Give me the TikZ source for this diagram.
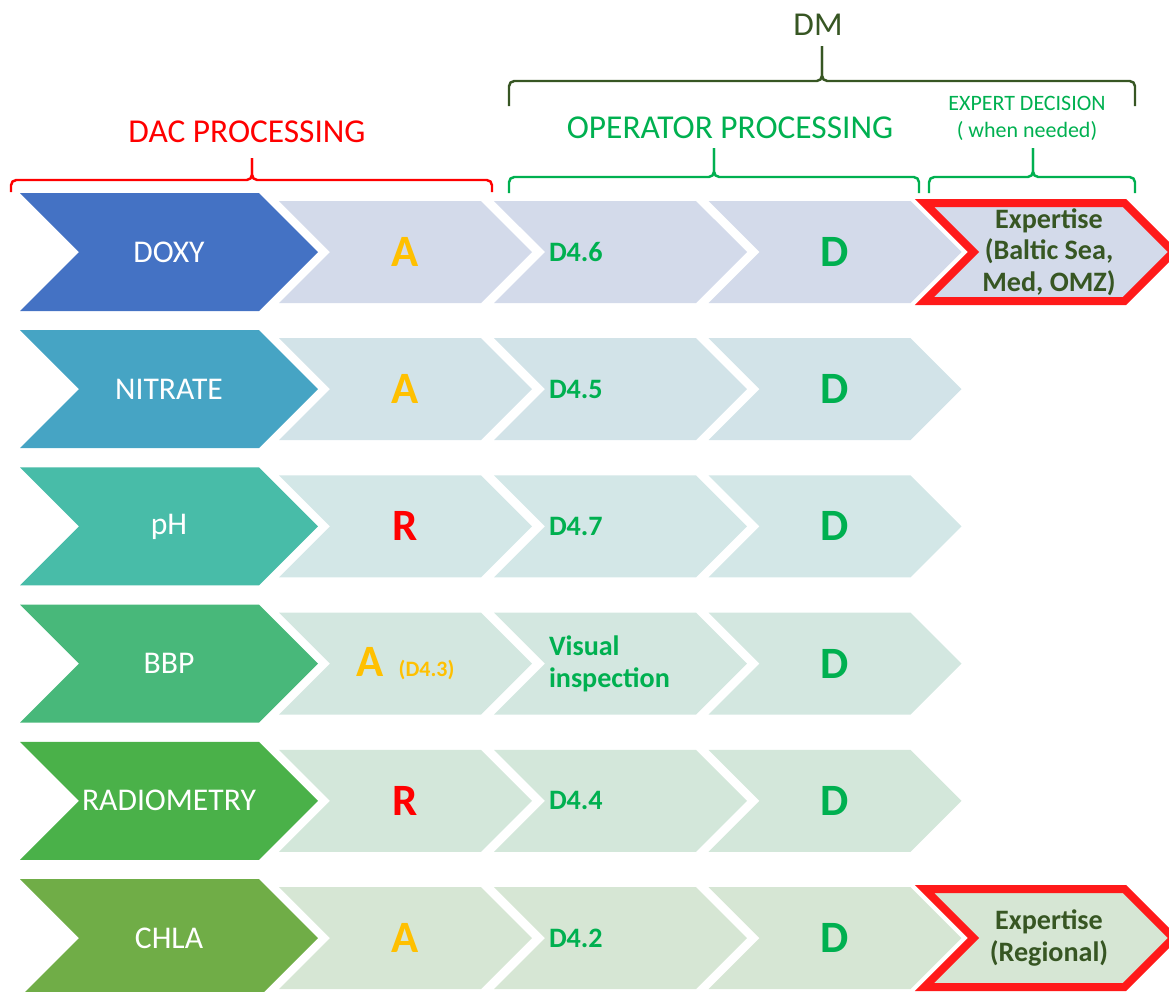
\documentclass[tikz,border=0pt]{standalone}
\usepackage{fontspec}
\setmainfont{Carlito}
\usepackage{tikz}
\usetikzlibrary{shapes.symbols}
\usepackage{xcolor}
\definecolor{dacred}{HTML}{FF0000}
\definecolor{expred}{HTML}{FF1A1A}
\definecolor{opgreen}{HTML}{00B050}
\definecolor{dmgreen}{HTML}{375623}
\definecolor{aorange}{HTML}{FFC000}
\definecolor{doxyH}{HTML}{4472C4}
\definecolor{nitH}{HTML}{46A4C4}
\definecolor{phH}{HTML}{48BCA8}
\definecolor{bbpH}{HTML}{48B87A}
\definecolor{radH}{HTML}{4AB149}
\definecolor{chlH}{HTML}{70AD47}
\definecolor{doxyL}{HTML}{D3DAEA}
\definecolor{nitL}{HTML}{D2E3E8}
\definecolor{phL}{HTML}{D3E7E7}
\definecolor{bbpL}{HTML}{D3E7E0}
\definecolor{radL}{HTML}{D3E7DA}
\definecolor{chlL}{HTML}{D6E6D4}
\tikzset{chevron/.style={signal, signal from=west, signal to=east, signal pointer angle=90, inner sep=0pt}}
\tikzset{headbox/.style={chevron, minimum width=5.96cm, minimum height=2.36cm, text=white, font=\fontsize{18}{20}\selectfont}}
\tikzset{stepbox/.style={chevron, minimum width=5.06cm, minimum height=2.04cm}}
\tikzset{refbox/.style={stepbox, text width=2.86cm, align=left, text=opgreen, font=\bfseries\fontsize{16}{18}\selectfont}}
\tikzset{expbox/.style={chevron, minimum width=4.98cm, minimum height=1.96cm, draw=expred, line width=0.16cm, text=dmgreen, align=center, font=\bfseries\fontsize{16}{18}\selectfont}}
\tikzset{letterA/.style={text=aorange, font=\bfseries\fontsize{25.5}{28}\selectfont}}
\tikzset{letterR/.style={text=dacred, font=\bfseries\fontsize{25.5}{28}\selectfont}}
\tikzset{letterD/.style={text=opgreen, font=\bfseries\fontsize{25.5}{28}\selectfont}}
\tikzset{bracket/.style={line width=1.4pt, rounded corners=3pt}}

\begin{document}
\begin{tikzpicture}

\useasboundingbox (0,0) rectangle (23.38,-19.82);

% DOXY
\node[headbox, fill=doxyH] (doxy) at (3.38, -5.04) {DOXY};
\node[stepbox, fill=doxyL, letterA] (doxyA) at (8.11, -5.04) {A};
\node[refbox, fill=doxyL] (doxyRef) at (12.41, -5.04) {D4.6};
\node[stepbox, fill=doxyL, letterD] (doxyD) at (16.70, -5.04) {D};
\node[expbox, fill=doxyL] (doxyExp) at (20.98, -5.04) {Expertise\\(Baltic Sea,\\Med, OMZ)};

% NITRATE
\node[headbox, fill=nitH] (nit) at (3.38, -7.784) {NITRATE};
\node[stepbox, fill=nitL, letterA] (nitA) at (8.11, -7.784) {A};
\node[refbox, fill=nitL] (nitRef) at (12.41, -7.784) {D4.5};
\node[stepbox, fill=nitL, letterD] (nitD) at (16.70, -7.784) {D};

% pH
\node[headbox, fill=phH] (ph) at (3.38, -10.528) {pH};
\node[stepbox, fill=phL, letterR] (phR) at (8.11, -10.528) {R};
\node[refbox, fill=phL] (phRef) at (12.41, -10.528) {D4.7};
\node[stepbox, fill=phL, letterD] (phD) at (16.70, -10.528) {D};

% BBP
\node[headbox, fill=bbpH] (bbp) at (3.38, -13.272) {BBP};
\node[stepbox, fill=bbpL, letterA] (bbpA) at (8.11, -13.272) {A\hspace{0.3cm}{\fontsize{12.5}{14}\selectfont (D4.3)}};
\node[refbox, fill=bbpL] (bbpRef) at (12.41, -13.272) {Visual\\inspection};
\node[stepbox, fill=bbpL, letterD] (bbpD) at (16.70, -13.272) {D};

% RADIOMETRY
\node[headbox, fill=radH] (rad) at (3.38, -16.016) {RADIOMETRY};
\node[stepbox, fill=radL, letterR] (radR) at (8.11, -16.016) {R};
\node[refbox, fill=radL] (radRef) at (12.41, -16.016) {D4.4};
\node[stepbox, fill=radL, letterD] (radD) at (16.70, -16.016) {D};

% CHLA
\node[headbox, fill=chlH] (chl) at (3.38, -18.76) {CHLA};
\node[stepbox, fill=chlL, letterA] (chlA) at (8.11, -18.76) {A};
\node[refbox, fill=chlL] (chlRef) at (12.41, -18.76) {D4.2};
\node[stepbox, fill=chlL, letterD] (chlD) at (16.70, -18.76) {D};
\node[expbox, fill=chlL] (chlExp) at (20.98, -18.76) {Expertise\\(Regional)};

% brackets and titles
\draw[bracket, dacred] (0.22,-3.84) |- (5.04,-3.60) -- (5.04,-3.16);
\draw[bracket, dacred] (9.84,-3.84) |- (5.04,-3.60) -- (5.04,-3.16);
\node[text=dacred, font=\fontsize{19}{21}\selectfont] (dac) at (4.94, -2.64) {DAC PROCESSING};

\draw[bracket, opgreen] (10.18,-3.86) |- (14.28,-3.54) -- (14.28,-2.96);
\draw[bracket, opgreen] (18.38,-3.86) |- (14.28,-3.54) -- (14.28,-2.96);
\node[text=opgreen, font=\fontsize{19}{21}\selectfont] (oper) at (14.60, -2.56) {OPERATOR PROCESSING};

\draw[bracket, opgreen] (18.58,-3.86) |- (20.66,-3.54) -- (20.66,-2.96);
\draw[bracket, opgreen] (22.70,-3.86) |- (20.66,-3.54) -- (20.66,-2.96);
\node[text=opgreen, align=center, font=\fontsize{12.5}{15.4}\selectfont] (expert) at (20.54, -2.37) {EXPERT DECISION\\( when needed)};

\draw[bracket, dmgreen] (10.18,-2.12) |- (16.44,-1.62) -- (16.44,-0.92);
\draw[bracket, dmgreen] (22.70,-2.12) |- (16.44,-1.62) -- (16.44,-0.92);
\node[text=dmgreen, font=\fontsize{19}{21}\selectfont] (dm) at (16.36, -0.50) {DM};

\end{tikzpicture}
\end{document}
